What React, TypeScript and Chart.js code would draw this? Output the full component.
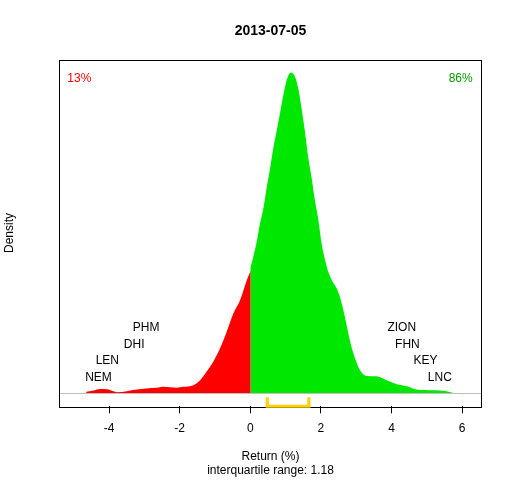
import React, { useEffect, useRef } from "react";
import { Chart, registerables } from "chart.js";

Chart.register(...registerables);

const chartTitle = "2013-07-05";
const xAxisTitle = "Return (%)";
const yAxisTitle = "Density";
const xTicks = [-4, -2, 0, 2, 4, 6];
const xMin = -5.41;
const xMax = 6.555;

// density below zero (red)
const negX = [-4.65, -4.45, -4.25, -4.05, -3.9, -3.78, -3.5, -3.22, -2.95, -2.65, -2.46, -2.08, -1.9, -1.61, -1.42, -1.24, -1.05, -0.86, -0.67, -0.48, -0.29, -0.1, 0, 0.012];
const negY = [0.0023, 0.0043, 0.0066, 0.0062, 0.0036, 0.0019, 0.0033, 0.0058, 0.0072, 0.0081, 0.0095, 0.0081, 0.0095, 0.0119, 0.0191, 0.0311, 0.0455, 0.0647, 0.0886, 0.1151, 0.1342, 0.163, 0.1755, 0.177];

// density above zero (green)
const posX = [0, 0.085, 0.18, 0.275, 0.37, 0.46, 0.56, 0.65, 0.75, 0.84, 0.935, 1.03, 1.15, 1.27, 1.36, 1.46, 1.55, 1.64, 1.74, 1.83, 1.93, 2.02, 2.12, 2.21, 2.31, 2.45, 2.54, 2.68, 2.82, 2.97, 3.11, 3.3, 3.58, 3.86, 4.15, 4.43, 4.71, 5.18, 5.56, 5.73];
const posY = [0.18, 0.1966, 0.2181, 0.2446, 0.2662, 0.295, 0.3237, 0.3525, 0.3788, 0.4029, 0.4292, 0.4508, 0.4619, 0.4555, 0.4388, 0.4076, 0.3764, 0.3404, 0.3094, 0.2781, 0.2494, 0.2158, 0.1918, 0.175, 0.163, 0.151, 0.139, 0.1102, 0.0767, 0.0504, 0.0335, 0.0253, 0.0249, 0.0191, 0.0134, 0.0105, 0.0058, 0.0047, 0.0033, 0.0009];

const leftTickers = ["NEM", "LEN", "DHI", "PHM"];
const leftTickerX = [-4.3, -4.05, -3.29, -2.95];
const leftTickerY = [0.0223, 0.0468, 0.0702, 0.0947];
const rightTickers = ["ZION", "FHN", "KEY", "LNC"];
const rightTickerX = [4.29, 4.45, 4.96, 5.37];
const rightTickerY = [0.0947, 0.0702, 0.0468, 0.0223];

const pctLeft = "13%";
const pctRight = "86%";
const iqrLow = 0.48;
const iqrHigh = 1.66;
const iqrLabel = "interquartile range: 1.18";

const FONT = "'Liberation Sans', Arial, sans-serif";

export default function App() {
  const ref = useRef<HTMLCanvasElement>(null);

  useEffect(() => {
    if (!ref.current) return;
    const peak = Math.max(...posY, ...negY);
    const yMin = -0.04 * peak;
    const yMax = 1.04 * peak;

    const overlay = {
      id: "overlay",
      afterDatasetsDraw(chart: any) {
        const { ctx, chartArea: a, scales } = chart;
        const xs = scales.x;
        const ys = scales.y;
        ctx.save();
        // zero baseline
        ctx.strokeStyle = "#BEBEBE";
        ctx.lineWidth = 1;
        ctx.beginPath();
        const y0 = Math.round(ys.getPixelForValue(0)) + 0.5;
        ctx.moveTo(a.left, y0);
        ctx.lineTo(a.right, y0);
        ctx.stroke();
        // box
        ctx.strokeStyle = "#000";
        ctx.lineWidth = 1;
        ctx.strokeRect(Math.round(a.left) + 0.5, Math.round(a.top) + 0.5, Math.round(a.right - a.left), Math.round(a.bottom - a.top));
        // IQR bracket
        const bx1 = xs.getPixelForValue(iqrLow);
        const bx2 = xs.getPixelForValue(iqrHigh);
        const by = a.bottom;
        ctx.strokeStyle = "#FFD000";
        ctx.lineWidth = 3;
        ctx.lineJoin = "miter";
        ctx.beginPath();
        ctx.moveTo(bx1, by - 9);
        ctx.lineTo(bx1, by);
        ctx.lineTo(bx2, by);
        ctx.lineTo(bx2, by - 9);
        ctx.stroke();
        // ticker labels
        ctx.fillStyle = "#000";
        ctx.font = `12px ${FONT}`;
        ctx.textAlign = "center";
        ctx.textBaseline = "middle";
        leftTickers.forEach((t, i) => {
          ctx.fillText(t, xs.getPixelForValue(leftTickerX[i]), ys.getPixelForValue(leftTickerY[i]));
        });
        rightTickers.forEach((t, i) => {
          ctx.fillText(t, xs.getPixelForValue(rightTickerX[i]), ys.getPixelForValue(rightTickerY[i]));
        });
        // percentages
        ctx.fillStyle = "#FF0000";
        ctx.textAlign = "left";
        ctx.fillText(pctLeft, a.left + 8, a.top + 19);
        ctx.fillStyle = "#00A000";
        ctx.textAlign = "right";
        ctx.fillText(pctRight, a.right - 9, a.top + 19);
        // titles
        ctx.fillStyle = "#000";
        ctx.textAlign = "center";
        ctx.font = `bold 14px ${FONT}`;
        ctx.fillText(chartTitle, (a.left + a.right) / 2, 31);
        ctx.font = `12px ${FONT}`;
        ctx.fillText(xAxisTitle, (a.left + a.right) / 2, 457);
        ctx.fillText(iqrLabel, (a.left + a.right) / 2, 471);
        ctx.save();
        ctx.translate(10, (a.top + a.bottom) / 2);
        ctx.rotate(-Math.PI / 2);
        ctx.fillText(yAxisTitle, 0, 0);
        ctx.restore();
        ctx.restore();
      },
    };

    const chart = new Chart(ref.current, {
      type: "line",
      data: {
        datasets: [
          {
            data: negX.map((x, i) => ({ x, y: negY[i] })),
            backgroundColor: "#FF0000",
            borderWidth: 0,
            pointRadius: 0,
            fill: "origin",
            cubicInterpolationMode: "monotone",
          },
          {
            data: posX.map((x, i) => ({ x, y: posY[i] })),
            backgroundColor: "#00E800",
            borderWidth: 0,
            pointRadius: 0,
            fill: "origin",
            cubicInterpolationMode: "monotone",
          },
        ],
      },
      options: {
        animation: false,
        responsive: false,
        devicePixelRatio: 1,
        layout: { padding: { top: 59.7, left: 59.3, right: 30.3, bottom: 0 } },
        plugins: { legend: { display: false }, tooltip: { enabled: false }, title: { display: false } },
        scales: {
          x: {
            type: "linear",
            min: xMin,
            max: xMax,
            afterBuildTicks: (s: any) => {
              s.ticks = xTicks.map((v) => ({ value: v }));
            },
            afterFit: (s: any) => {
              s.height = 73.7;
            },
            border: { display: false },
            grid: { drawOnChartArea: false, drawTicks: true, tickLength: 7, color: "#000", lineWidth: 1 },
            ticks: {
              color: "#000",
              font: { family: FONT, size: 12 },
              padding: 8,
              maxRotation: 0,
              autoSkip: false,
              callback: (v: any) => String(v),
            },
          },
          y: { type: "linear", display: false, min: yMin, max: yMax },
        },
      },
      plugins: [overlay],
    });
    return () => chart.destroy();
  }, []);

  return (
    <div style={{ position: "absolute", left: 0, top: 0, width: 512, height: 480, background: "#fff" }}>
      <canvas ref={ref} width={512} height={480} />
    </div>
  );
}
